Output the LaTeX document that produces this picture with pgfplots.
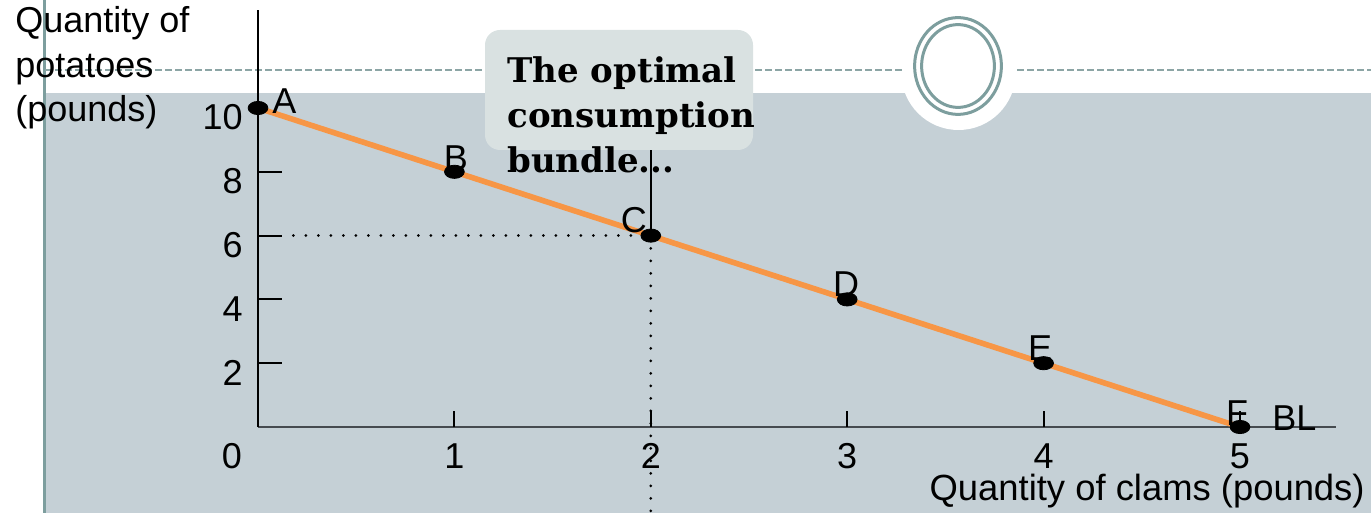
\documentclass[border=0pt]{standalone}
\usepackage{fontspec}
\usepackage{pgfplots}
\pgfplotsset{compat=1.18}
\newfontfamily\arial{Liberation Sans}
\newfontfamily\dvs{DejaVu Serif}
\definecolor{bgblue}{RGB}{197,208,214}
\definecolor{teal1}{RGB}{125,158,158}
\definecolor{dashc}{RGB}{140,165,165}
\definecolor{boxc}{RGB}{217,225,225}
\definecolor{orng}{RGB}{247,150,70}
\definecolor{xax}{RGB}{70,75,80}
\newcommand\lf{\arial\fontsize{18}{21.6}\selectfont}
\begin{document}
\begin{tikzpicture}
\useasboundingbox (0,0) rectangle (685.5pt,-256.5pt);
\begin{scope}[x=0.5pt,y=-0.5pt]
\fill[bgblue] (45,93) rectangle (1371,513);
\fill[white] (958.5,72.8) circle [radius=28.6pt];
\draw[teal1, line width=1.5pt] (44,0) -- (44,513);
\draw[dashc, line width=1.2pt, dash pattern=on 3.5pt off 1.5pt] (45,70) -- (905,70);
\draw[dashc, line width=1.2pt, dash pattern=on 3.5pt off 1.5pt] (1017,70) -- (1371,70);
\draw[teal1, line width=1.5pt] (958,66) ellipse [x radius=21.7pt, y radius=24.2pt];
\draw[teal1, line width=1.5pt] (958,66) ellipse [x radius=18.2pt, y radius=20.7pt];
\fill[boxc, rounded corners=7.5pt] (485,30) rectangle (753,150);
\end{scope}
\node[anchor=base west, inner sep=0, font=\dvs\bfseries\fontsize{17}{20}\selectfont] at (253.5pt,-41.5pt) {The optimal};
\node[anchor=base west, inner sep=0, font=\dvs\bfseries\fontsize{17}{20}\selectfont] at (253.5pt,-64pt) {consumption};
\node[anchor=base west, inner sep=0, font=\dvs\bfseries\fontsize{17}{20}\selectfont] at (253.5pt,-86.5pt) {bundle...};
\node[anchor=base west, inner sep=0, font=\lf] at (7.5pt,-16.5pt) {Quantity of};
\node[anchor=base west, inner sep=0, font=\lf] at (7.5pt,-39pt) {potatoes};
\node[anchor=base west, inner sep=0, font=\lf] at (7.5pt,-61pt) {(pounds)};
\node[anchor=base east, inner sep=0, text height=13pt, text depth=3.6pt, font=\fontsize{18.2}{21.6}\arial] at (682.5pt,-250.2pt) {Quantity of clams (pounds)};
\node[anchor=base, inner sep=0, font=\lf] at (116pt,-234pt) {0};
\begin{axis}[
  at={(129pt,-213.5pt)}, anchor=south west,
  x=98.2pt, y=15.95pt,
  xmin=0, xmax=5.49, ymin=0, ymax=13.07,
  axis lines=left, axis line style={-},
  x axis line style={draw=xax, line width=1pt},
  y axis line style={draw=black, line width=0.85pt},
  xtick={1,2,3,4,5}, ytick={2,4,6,8,10},
  major tick length=0pt, tick style={draw=none},
  /pgf/number format/assume math mode=true,
  ticklabel style={font=\lf, inner sep=0pt, text height=12.9pt, text depth=0pt},
  xticklabel style={anchor=base, yshift=-20.5pt},
  yticklabel style={anchor=base east, xshift=-7.5pt, yshift=-11pt},
  clip=false,
]
\pgfplotsinvokeforeach{2,4,6,8}{\draw[black, line width=1pt] (axis cs:0,#1) -- (axis cs:0.1222,#1);}
\pgfplotsinvokeforeach{1,2,3,4,5}{\draw[black, line width=1pt] (axis cs:#1,0) -- (axis cs:#1,0.50);}
\addplot[black, line width=1.5pt, line cap=round, dash pattern=on 0pt off 6.25pt] coordinates {(0.18,6) (2,6)};
\addplot[black, line width=1.5pt, line cap=round, dash pattern=on 0pt off 6.25pt] coordinates {(2,5.6) (2,-2.8)};
\addplot[black, line width=1pt] coordinates {(2,8.68) (2,6)};
\addplot[orng, line width=2.8pt] coordinates {(0,10) (1,8) (2,6) (3,4) (4,2) (5,0)};
\addplot[only marks, mark=*, mark size=3.3pt, mark options={black, fill=black, xscale=1.5}] coordinates {(0,10) (1,8) (2,6) (3,4) (4,2) (5,0)};
\node[anchor=base west, inner sep=0, font=\lf] at (axis cs:0.071,9.84) {A};
\node[anchor=base, inner sep=0, font=\lf] at (axis cs:1.008,8.05) {B};
\node[anchor=base, inner sep=0, font=\lf] at (axis cs:1.914,6.11) {C};
\node[anchor=base, inner sep=0, font=\lf] at (axis cs:2.994,4.08) {D};
\node[anchor=base, inner sep=0, font=\lf] at (axis cs:3.982,2.07) {E};
\node[anchor=base, inner sep=0, font=\lf] at (axis cs:4.985,0.06) {F};
\node[anchor=base west, inner sep=0, font=\lf] at (axis cs:5.163,-0.125) {BL};
\end{axis}
\end{tikzpicture}
\end{document}
